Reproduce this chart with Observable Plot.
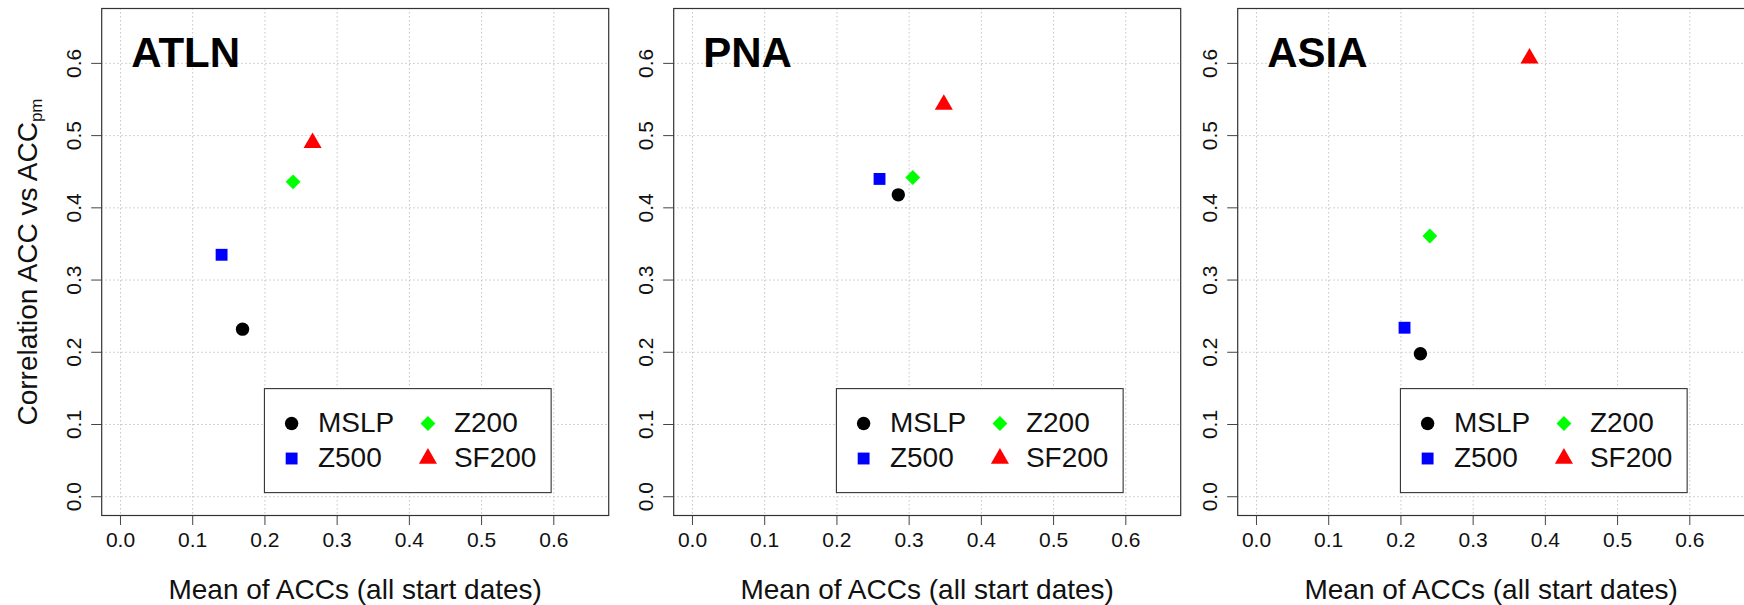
<!DOCTYPE html>
<html>
<head>
<meta charset="utf-8">
<script src="https://cdn.jsdelivr.net/npm/d3@7"></script>
<script src="https://cdn.jsdelivr.net/npm/@observablehq/plot@0.6"></script>
<style>
html, body { margin: 0; padding: 0; background: #fff; }
#wrap { position: relative; width: 1744px; height: 605px; overflow: hidden; font-family: "Liberation Sans", Arial, Helvetica, sans-serif; }
#wrap > div { position: absolute; top: 0; }
#wrap svg { background: transparent !important; max-width: none !important; overflow: visible; }
</style>
</head>
<body>
<div id="wrap"></div>
<script>
// ---- data ----
const regions = ["ATLN", "PNA", "ASIA"];
const variables = ["MSLP", "Z500", "Z200", "SF200"];
const meanACC_ATLN = [0.169, 0.140, 0.239, 0.266];
const corr_ATLN    = [0.232, 0.335, 0.436, 0.490];
const meanACC_PNA  = [0.285, 0.259, 0.305, 0.348];
const corr_PNA     = [0.418, 0.440, 0.442, 0.543];
const meanACC_ASIA = [0.227, 0.205, 0.240, 0.378];
const corr_ASIA    = [0.198, 0.234, 0.361, 0.607];
const xTicks = [0.0, 0.1, 0.2, 0.3, 0.4, 0.5, 0.6];
const yTicks = [0.0, 0.1, 0.2, 0.3, 0.4, 0.5, 0.6];
const xTitle = "Mean of ACCs (all start dates)";
const yTitle = "Correlation ACC vs ACC";
const ySub = "pm";

// ---- styling ----
const symbols = ["circle", "square", "diamond2", "triangle"];
const colors = ["#000000", "#0000ff", "#00ff00", "#ff0000"];
const axisDomain = [-0.026, 0.676];
const legendBox = {x1: 0.2, x2: 0.597, y1: 0.005, y2: 0.149};
const panelLefts = [0, 572.1, 1135.5];
const meanByRegion = [meanACC_ATLN, meanACC_PNA, meanACC_ASIA];
const corrByRegion = [corr_ATLN, corr_PNA, corr_ASIA];
const FONT = "'Liberation Sans', Arial, Helvetica, sans-serif";

function panel(i) {
  const data = variables.map((v, j) => ({variable: v, x: meanByRegion[i][j], y: corrByRegion[i][j]}));
  const gridStyle = {stroke: "#c4c4c4", strokeOpacity: 1, strokeWidth: 1, strokeDasharray: "1.5,2.5"};
  const marks = [
    Plot.gridX(xTicks, gridStyle),
    Plot.gridY(yTicks, gridStyle),
    Plot.axisX(xTicks, {tickSize: 10, tickPadding: 7, fontSize: 21, label: null, tickFormat: d => d.toFixed(1), stroke: "#444", fill: "#111"}),
    Plot.axisY(yTicks, {tickSize: 10, tickFormat: () => "", label: null, stroke: "#444"}),
    Plot.text(yTicks, {y: d => d, text: d => d.toFixed(1), frameAnchor: "left", dx: -27.4, rotate: -90,
      fontSize: 21, lineAnchor: "middle", textAnchor: "middle", fill: "#111"}),
    Plot.text([regions[i]], {text: d => d, frameAnchor: "top-left", dx: 29.5, dy: 29, fontSize: 42,
      fontWeight: "bold", lineAnchor: "top", textAnchor: "start", fill: "#000"}),
    Plot.text([xTitle], {text: d => d, frameAnchor: "bottom", dy: 74.3, fontSize: 28, lineAnchor: "middle", fill: "#111"}),
    Plot.dot(data, {x: "x", y: "y", symbol: "variable", fill: "variable", r: 6.7, stroke: "none"}),
    Plot.rect([legendBox], {x1: "x1", x2: "x2", y1: "y1", y2: "y2", fill: "white", stroke: "#333", strokeWidth: 1.1}),
  ];
  variables.forEach((v, j) => {
    const col = Math.floor(j / 2), row = j % 2;
    const symDx = col === 0 ? 26.7 : 163;
    const txtDx = col === 0 ? 53 : 189;
    const dy = row === 0 ? 34.4 : 69.4;
    marks.push(Plot.dot([v], {x: () => legendBox.x1, y: () => legendBox.y2, dx: symDx, dy,
      symbol: d => d, fill: d => d, r: 6.7, stroke: "none"}));
    marks.push(Plot.text([v], {x: () => legendBox.x1, y: () => legendBox.y2, dx: txtDx, dy, text: d => d,
      fontSize: 28, textAnchor: "start", lineAnchor: "middle", fill: "#111"}));
  });
  marks.push(Plot.frame({stroke: "#333", strokeWidth: 1.2}));
  if (i === 0) {
    marks.push(Plot.text([yTitle], {text: d => d, frameAnchor: "left", dx: -73.5, rotate: -90, fontSize: 28,
      lineAnchor: "middle", textAnchor: "middle", fill: "#111"}));
  }
  const svg = Plot.plot({
    width: 610, height: 605,
    marginLeft: 101.2, marginRight: 1.8, marginTop: 8, marginBottom: 90,
    x: {domain: axisDomain, label: null},
    y: {domain: axisDomain, label: null},
    symbol: {domain: variables, range: symbols},
    color: {domain: variables, range: colors},
    style: {fontFamily: FONT, background: "transparent", overflow: "visible"},
    marks
  });
  if (i === 0) {
    const t = [...svg.querySelectorAll("text")].find(e => e.textContent === yTitle);
    if (t) {
      const ts = document.createElementNS("http://www.w3.org/2000/svg", "tspan");
      ts.setAttribute("dy", "0.3em");
      ts.setAttribute("font-size", "17");
      ts.textContent = ySub;
      t.appendChild(ts);
    }
  }
  return svg;
}

const wrap = document.getElementById("wrap");
regions.forEach((r, i) => {
  const div = document.createElement("div");
  div.style.left = panelLefts[i] + "px";
  div.appendChild(panel(i));
  wrap.appendChild(div);
});
</script>
</body>
</html>
